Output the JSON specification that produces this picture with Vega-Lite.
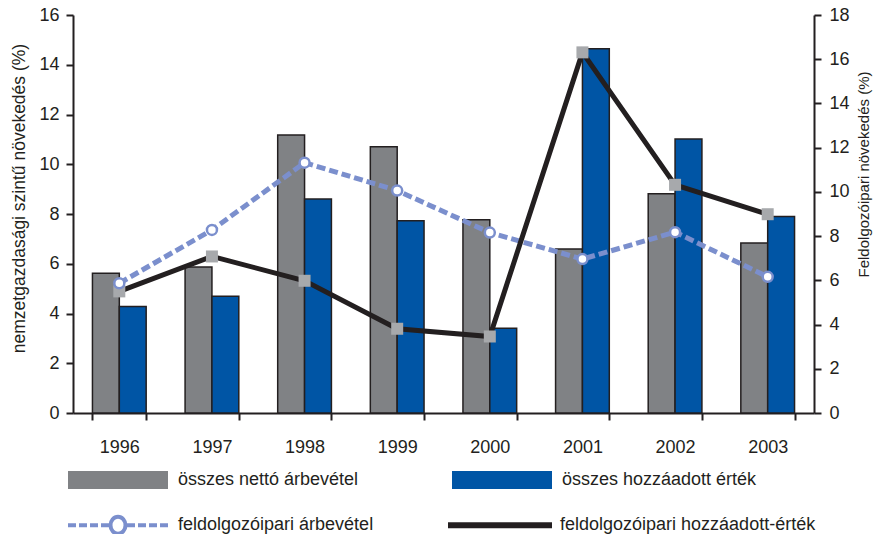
{
  "$schema": "https://vega.github.io/schema/vega-lite/v6.json",
  "width": 741,
  "height": 398,
  "autosize": {"type": "none"},
  "padding": {"left": 73, "top": 15, "right": 64, "bottom": 121},
  "config": {
    "font": "Liberation Sans",
    "view": {"stroke": null},
    "axis": {
      "grid": false,
      "domainColor": "#231f20",
      "tickColor": "#231f20",
      "labelColor": "#231f20",
      "titleColor": "#231f20",
      "domainWidth": 2,
      "tickWidth": 2,
      "labelFontSize": 18,
      "titleFontWeight": "normal"
    },
    "legend": {"labelColor": "#231f20", "labelFontSize": 18, "padding": 0, "labelLimit": 500}
  },
  "datasets": {
    "osszes": [
      {"year": "1996", "series": "összes nettó árbevétel", "value": 5.62},
      {"year": "1996", "series": "összes hozzáadott érték", "value": 4.28},
      {"year": "1997", "series": "összes nettó árbevétel", "value": 5.87},
      {"year": "1997", "series": "összes hozzáadott érték", "value": 4.69},
      {"year": "1998", "series": "összes nettó árbevétel", "value": 11.18},
      {"year": "1998", "series": "összes hozzáadott érték", "value": 8.6},
      {"year": "1999", "series": "összes nettó árbevétel", "value": 10.7},
      {"year": "1999", "series": "összes hozzáadott érték", "value": 7.73},
      {"year": "2000", "series": "összes nettó árbevétel", "value": 7.77},
      {"year": "2000", "series": "összes hozzáadott érték", "value": 3.41},
      {"year": "2001", "series": "összes nettó árbevétel", "value": 6.59},
      {"year": "2001", "series": "összes hozzáadott érték", "value": 14.64},
      {"year": "2002", "series": "összes nettó árbevétel", "value": 8.81},
      {"year": "2002", "series": "összes hozzáadott érték", "value": 11.02},
      {"year": "2003", "series": "összes nettó árbevétel", "value": 6.83},
      {"year": "2003", "series": "összes hozzáadott érték", "value": 7.9}
    ],
    "feldolgozoipar": [
      {"year": "1996", "series": "feldolgozóipari árbevétel", "value": 5.87},
      {"year": "1997", "series": "feldolgozóipari árbevétel", "value": 8.28},
      {"year": "1998", "series": "feldolgozóipari árbevétel", "value": 11.32},
      {"year": "1999", "series": "feldolgozóipari árbevétel", "value": 10.06},
      {"year": "2000", "series": "feldolgozóipari árbevétel", "value": 8.16},
      {"year": "2001", "series": "feldolgozóipari árbevétel", "value": 6.96},
      {"year": "2002", "series": "feldolgozóipari árbevétel", "value": 8.18},
      {"year": "2003", "series": "feldolgozóipari árbevétel", "value": 6.16},
      {"year": "1996", "series": "feldolgozóipari hozzáadott-érték", "value": 5.5},
      {"year": "1997", "series": "feldolgozóipari hozzáadott-érték", "value": 7.08},
      {"year": "1998", "series": "feldolgozóipari hozzáadott-érték", "value": 5.98},
      {"year": "1999", "series": "feldolgozóipari hozzáadott-érték", "value": 3.81},
      {"year": "2000", "series": "feldolgozóipari hozzáadott-érték", "value": 3.46},
      {"year": "2001", "series": "feldolgozóipari hozzáadott-érték", "value": 16.31},
      {"year": "2002", "series": "feldolgozóipari hozzáadott-érték", "value": 10.32},
      {"year": "2003", "series": "feldolgozóipari hozzáadott-érték", "value": 8.99}
    ]
  },
  "encoding": {
    "x": {
      "field": "year",
      "type": "nominal",
      "scale": {"paddingInner": 0.42, "paddingOuter": 0.21},
      "axis": {
        "title": null,
        "labelAngle": 0,
        "tickBand": "extent",
        "tickSize": 7,
        "labelPadding": 18
      }
    }
  },
  "layer": [
    {
      "data": {"name": "osszes"},
      "mark": {"type": "bar", "stroke": "#231f20", "strokeWidth": 1.5},
      "encoding": {
        "xOffset": {
          "field": "series",
          "type": "nominal",
          "sort": ["összes nettó árbevétel", "összes hozzáadott érték"],
          "scale": {"paddingInner": 0, "paddingOuter": 0}
        },
        "y": {
          "field": "value",
          "type": "quantitative",
          "scale": {"domain": [0, 16], "nice": false},
          "axis": {
            "title": "nemzetgazdasági szintű növekedés (%)",
            "titleFontSize": 17.5,
            "values": [0, 2, 4, 6, 8, 10, 12, 14, 16],
            "tickSize": 7,
            "labelPadding": 7,
            "titlePadding": 10,
            "titleY": 183
          }
        },
        "fill": {
          "field": "series",
          "type": "nominal",
          "scale": {
            "domain": ["összes nettó árbevétel", "összes hozzáadott érték"],
            "range": ["#808285", "#0055a5"]
          },
          "legend": {
            "title": null,
            "orient": "none",
            "legendX": -5,
            "legendY": 415,
            "direction": "horizontal",
            "columns": 2,
            "columnPadding": 93,
            "symbolType": "M-1,-0.18H1V0.18H-1Z",
            "symbolSize": 10000,
            "symbolStrokeWidth": 0,
            "symbolOpacity": 1,
            "labelOffset": 10
          }
        }
      }
    },
    {
      "data": {"name": "feldolgozoipar"},
      "encoding": {
        "y": {
          "field": "value",
          "type": "quantitative",
          "scale": {"domain": [0, 18], "nice": false},
          "axis": {
            "orient": "right",
            "title": "Feldolgozóipari növekedés (%)",
            "titleFontSize": 15,
            "values": [0, 2, 4, 6, 8, 10, 12, 14, 16, 18],
            "tickSize": 7,
            "labelPadding": 8,
            "titleAngle": 270,
            "titlePadding": 22,
            "titleY": 159
          }
        }
      },
      "layer": [
        {
          "transform": [{"filter": "datum.series === 'feldolgozóipari árbevétel'"}],
          "mark": {"type": "line", "strokeWidth": 5, "strokeDash": [9, 4]},
          "encoding": {
            "stroke": {
              "field": "series",
              "type": "nominal",
              "scale": {
                "domain": ["feldolgozóipari árbevétel", "feldolgozóipari hozzáadott-érték"],
                "range": ["#7b8fcd", "#231f20"]
              },
              "legend": {
                "title": null,
                "orient": "none",
                "legendX": -7,
                "legendY": 458,
                "direction": "horizontal",
                "columns": 2,
                "columnPadding": 68,
                "symbolType": "M-1,0H1",
                "symbolSize": 10000,
                "symbolStrokeWidth": 4,
                "labelOffset": 8,
                "encode": {
                  "symbols": {
                    "update": {
                      "shape": {"signal": "datum.value === 'feldolgozóipari árbevétel' ? 'M-1,0H-0.84M-0.78,0H-0.62M-0.56,0H-0.4M-0.34,0H-0.18M0.18,0H0.34M0.4,0H0.56M0.62,0H0.78M0.84,0H1M-0.15,0A0.15,0.17 0 1,1 0.15,0A0.15,0.17 0 1,1 -0.15,0Z' : 'M0,-0.17M0,0.17M-1,-0.02H1V0.02H-1Z'"},
                      "fill": {"signal": "datum.value === 'feldolgozóipari árbevétel' ? '#ffffff' : '#231f20'"},
                      "opacity": {"value": 1}
                    }
                  }
                }
              }
            }
          }
        },
        {
          "transform": [{"filter": "datum.series === 'feldolgozóipari hozzáadott-érték'"}],
          "mark": {"type": "line", "strokeWidth": 5, "color": "#231f20"}
        },
        {
          "transform": [{"filter": "datum.series === 'feldolgozóipari hozzáadott-érték'"}],
          "mark": {"type": "point", "shape": "square", "filled": true, "size": 144, "color": "#a7a9ac", "opacity": 1}
        },
        {
          "transform": [{"filter": "datum.series === 'feldolgozóipari árbevétel'"}],
          "mark": {"type": "point", "shape": "circle", "filled": true, "size": 100, "fill": "#ffffff", "stroke": "#7b8fcd", "strokeWidth": 2.5, "opacity": 1}
        }
      ]
    }
  ],
  "resolve": {"scale": {"y": "independent"}}
}
